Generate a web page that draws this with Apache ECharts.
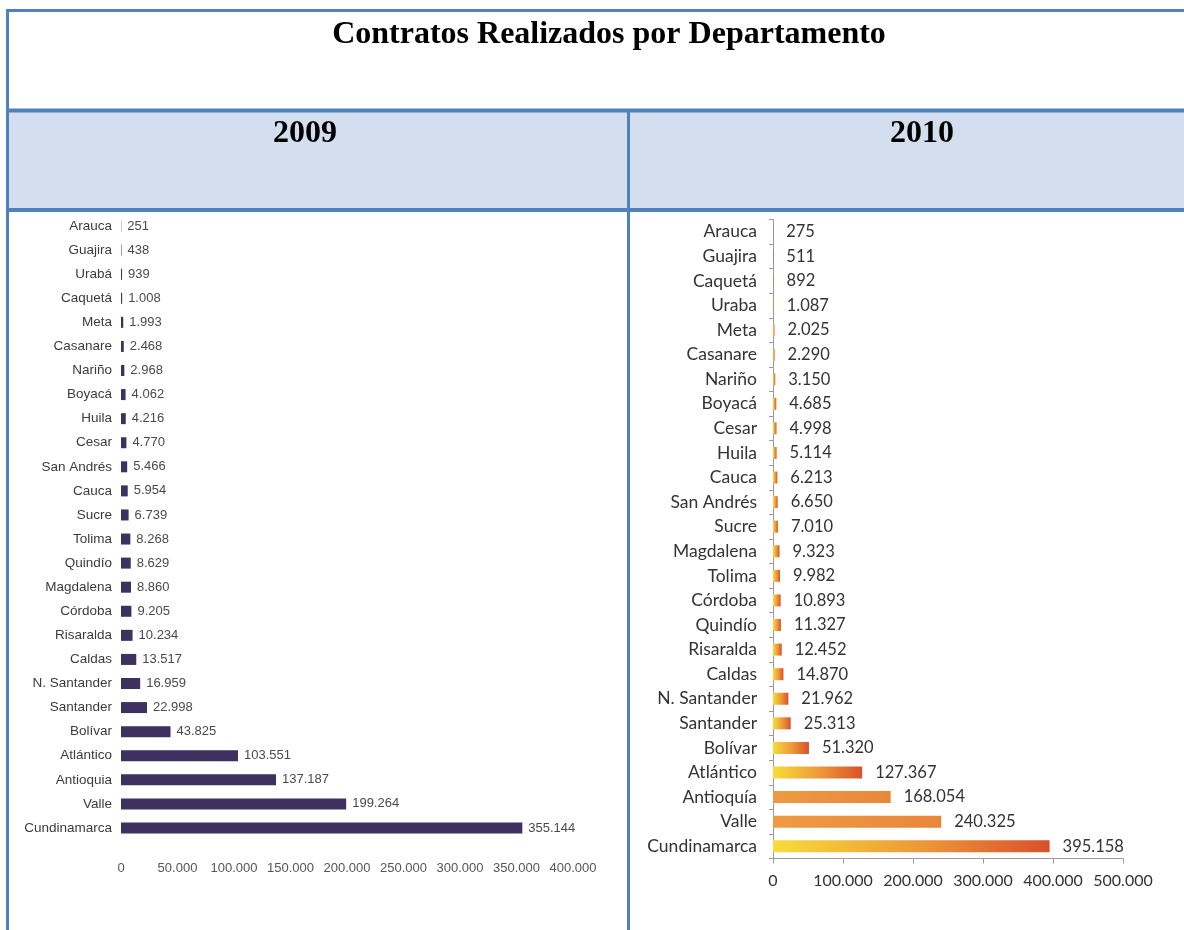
<!DOCTYPE html>
<html>
<head>
<meta charset="utf-8">
<script src="https://cdn.jsdelivr.net/npm/echarts@6/dist/echarts.min.js"></script>
<style>
  html, body { margin: 0; padding: 0; background: #fff; }
  #chart { width: 1184px; height: 930px; }
</style>
</head>
<body>
<div id="chart"></div>
<script>
// 2009 data (top to bottom as printed)
const cats2009 = ['Arauca', 'Guajira', 'Urabá', 'Caquetá', 'Meta', 'Casanare', 'Nariño', 'Boyacá', 'Huila', 'Cesar',
  'San Andrés', 'Cauca', 'Sucre', 'Tolima', 'Quindío', 'Magdalena', 'Córdoba', 'Risaralda', 'Caldas', 'N. Santander',
  'Santander', 'Bolívar', 'Atlántico', 'Antioquia', 'Valle', 'Cundinamarca']
const vals2009 = [251, 438, 939, 1008, 1993, 2468, 2968, 4062, 4216, 4770,
  5466, 5954, 6739, 8268, 8629, 8860, 9205, 10234, 13517, 16959,
  22998, 43825, 103551, 137187, 199264, 355144]

// 2010 data
const cats2010 = ['Arauca', 'Guajira', 'Caquetá', 'Uraba', 'Meta', 'Casanare', 'Nariño', 'Boyacá', 'Cesar', 'Huila',
  'Cauca', 'San Andrés', 'Sucre', 'Magdalena', 'Tolima', 'Córdoba', 'Quindío', 'Risaralda', 'Caldas', 'N. Santander',
  'Santander', 'Bolívar', 'Atlántico', 'Antioquía', 'Valle', 'Cundinamarca']
const vals2010 = [275, 511, 892, 1087, 2025, 2290, 3150, 4685, 4998, 5114,
  6213, 6650, 7010, 9323, 9982, 10893, 11327, 12452, 14870, 21962,
  25313, 51320, 127367, 168054, 240325, 395158]

const mainTitle = 'Contratos Realizados por Departamento'
const years = ['2009', '2010']

const fmt = v => String(v).replace(/\B(?=(\d{3})+(?!\d))/g, '.')

const chart = echarts.init(document.getElementById('chart'))

const border = '#4f81bd'
const serif = '"Liberation Serif", "Times New Roman", serif'
const sans2009 = '"Liberation Sans", Arial, sans-serif'
const sans2010 = 'Lato, "Open Sans", sans-serif'

const grad = {
  type: 'linear', x: 0, y: 0, x2: 1, y2: 0,
  colorStops: [
    { offset: 0, color: '#f8dc3b' },
    { offset: 0.55, color: '#ec9638' },
    { offset: 1, color: '#d8502b' }
  ]
}
const flat = {
  type: 'linear', x: 0, y: 0, x2: 1, y2: 0,
  colorStops: [
    { offset: 0, color: '#ef9a42' },
    { offset: 1, color: '#e9863a' }
  ]
}

const option = {
  backgroundColor: '#fff',
  animation: false,
  title: [
    {
      text: mainTitle, left: 604, top: 14, textAlign: 'center',
      textStyle: { fontFamily: serif, fontSize: 32, fontWeight: 'bold', color: '#000' }
    },
    {
      text: years[0], left: 300, top: 113, textAlign: 'center',
      textStyle: { fontFamily: serif, fontSize: 32, fontWeight: 'bold', color: '#000' }
    },
    {
      text: years[1], left: 917, top: 113, textAlign: 'center',
      textStyle: { fontFamily: serif, fontSize: 32, fontWeight: 'bold', color: '#000' }
    }
  ],
  graphic: [
    // header fill
    { type: 'rect', z: -10, shape: { x: 9, y: 112, width: 1175, height: 97 }, style: { fill: '#d3dfee' } },
    // table lines
    { type: 'line', shape: { x1: 6, y1: 10.5, x2: 1184, y2: 10.5 }, style: { stroke: border, lineWidth: 3 } },
    { type: 'line', shape: { x1: 7.5, y1: 9, x2: 7.5, y2: 930 }, style: { stroke: border, lineWidth: 3 } },
    { type: 'line', shape: { x1: 6, y1: 110.5, x2: 1184, y2: 110.5 }, style: { stroke: border, lineWidth: 4 } },
    { type: 'line', shape: { x1: 6, y1: 210, x2: 1184, y2: 210 }, style: { stroke: border, lineWidth: 4 } },
    { type: 'line', shape: { x1: 628.5, y1: 110, x2: 628.5, y2: 930 }, style: { stroke: border, lineWidth: 3 } }
  ],
  grid: [
    { left: 121, top: 214, width: 452, height: 626 },
    { left: 773, top: 219.5, width: 350, height: 639 }
  ],
  xAxis: [
    {
      type: 'value', gridIndex: 0, min: 0, max: 400000, interval: 50000,
      axisLine: { show: false }, axisTick: { show: false }, splitLine: { show: false },
      axisLabel: { formatter: fmt, margin: 22, fontSize: 13, color: '#555', fontFamily: sans2009 }
    },
    {
      type: 'value', gridIndex: 1, min: 0, max: 500000, interval: 100000,
      axisLine: { show: true, lineStyle: { color: '#9a9a9a', width: 1 } },
      axisTick: { show: true, length: 5, lineStyle: { color: '#9a9a9a' } },
      splitLine: { show: false },
      axisLabel: { formatter: fmt, margin: 14, fontSize: 16, color: '#333', fontFamily: sans2010 }
    }
  ],
  yAxis: [
    {
      type: 'category', gridIndex: 0, data: cats2009, inverse: true,
      axisLine: { show: false }, axisTick: { show: false },
      axisLabel: { margin: 9, fontSize: 13.5, color: '#3b3b3b', fontFamily: sans2009 }
    },
    {
      type: 'category', gridIndex: 1, data: cats2010, inverse: true,
      axisLine: { show: true, lineStyle: { color: '#9a9a9a', width: 1 } },
      axisTick: { show: true, length: 4, lineStyle: { color: '#9a9a9a' } },
      axisLabel: { margin: 16, fontSize: 17.5, color: '#333', fontFamily: sans2010 }
    }
  ],
  series: [
    {
      name: years[0], type: 'bar', xAxisIndex: 0, yAxisIndex: 0,
      data: vals2009, barWidth: 11,
      itemStyle: { color: '#3e305f' },
      label: {
        show: true, position: 'right', distance: 6, formatter: p => fmt(p.value),
        fontSize: 13, color: '#4a4a4a', fontFamily: sans2009
      }
    },
    {
      name: years[1], type: 'bar', xAxisIndex: 1, yAxisIndex: 1,
      data: vals2010.map((v, i) => ({
        value: v,
        itemStyle: { color: (cats2010[i] === 'Antioquía' || cats2010[i] === 'Valle') ? flat : grad }
      })),
      barWidth: 12,
      label: {
        show: true, position: 'right', distance: 13, formatter: p => fmt(p.value),
        fontSize: 16.5, color: '#333', fontFamily: sans2010
      }
    }
  ]
}

chart.setOption(option)
</script>
</body>
</html>
